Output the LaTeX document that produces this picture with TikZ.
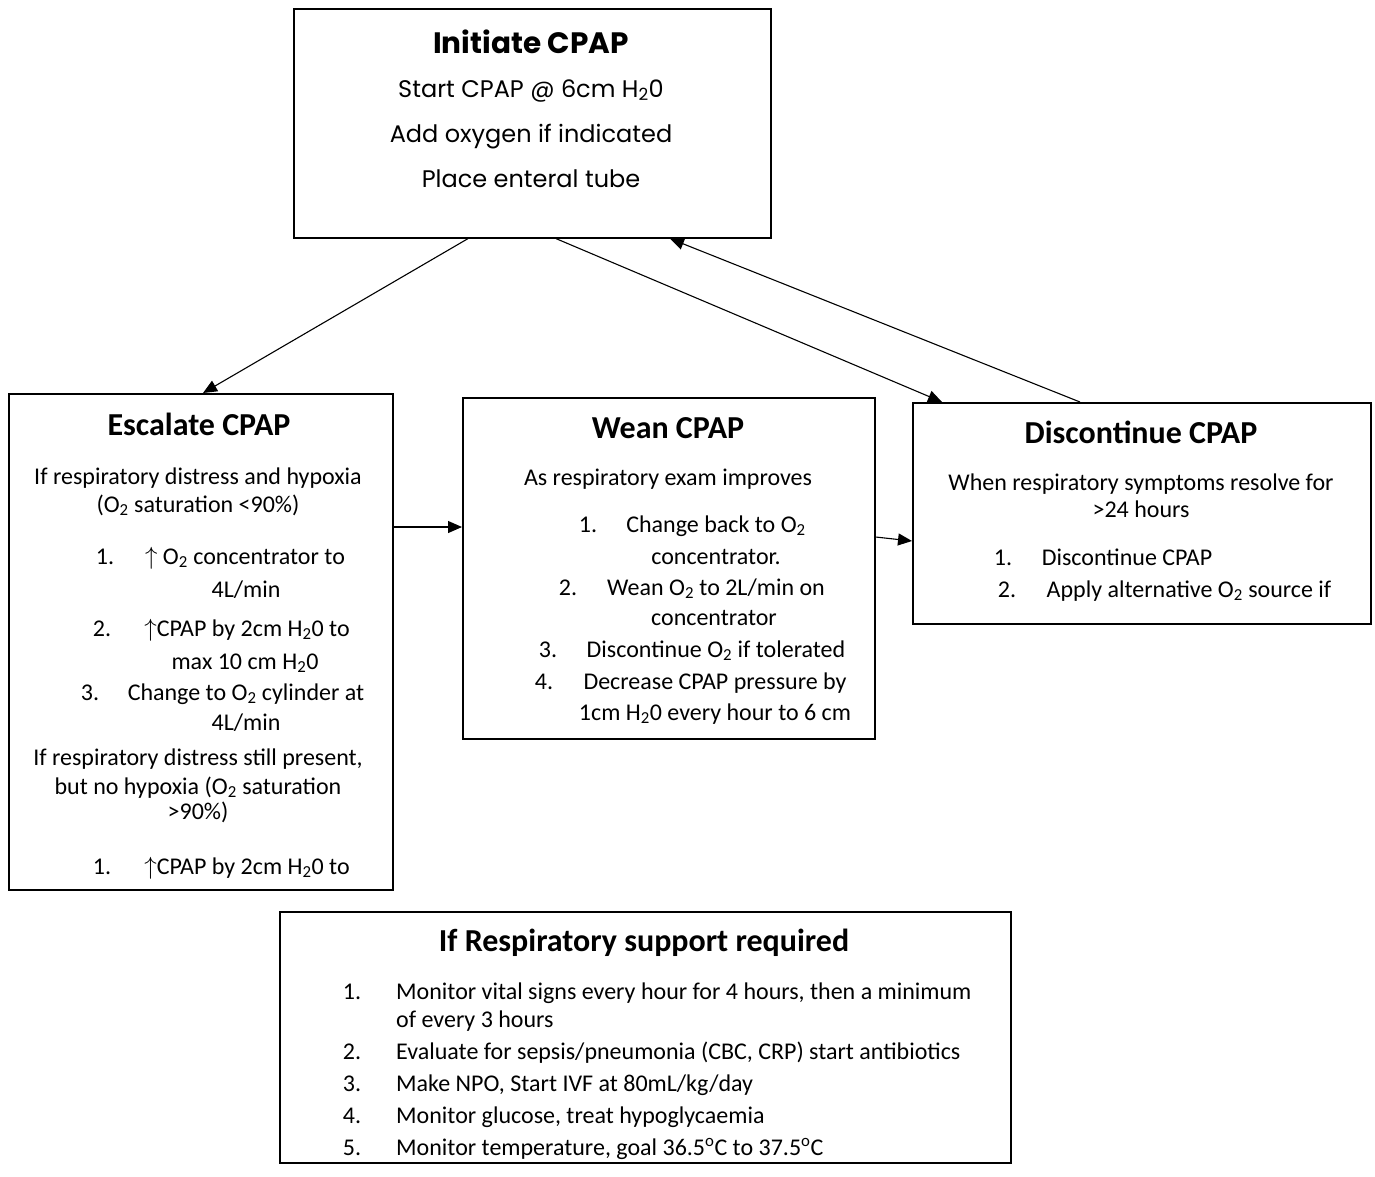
\documentclass[tikz,border=0pt]{standalone}
\usepackage{fontspec}
\usepackage{tikz}
\usetikzlibrary{arrows.meta}
\newfontfamily\gothic{Poppins}
\newfontfamily\carlito{Carlito}
\newcommand{\Ox}{O\textsubscript{2}}
\newcommand{\Hz}{H\textsubscript{2}0}
\newcommand{\upar}{$\uparrow$}

\tikzset{
  box/.style={draw, line width=1.6pt, anchor=north west, inner sep=0pt},
  arr/.style={-{Triangle[length=14pt,width=12pt]}, line width=1.1pt},
  gttl/.style={font=\gothic\bfseries\fontsize{29.5}{32}\selectfont, anchor=mid, inner sep=0pt, yshift=-9pt},
  gtxt/.style={font=\gothic\fontsize{24}{28}\selectfont, anchor=mid, inner sep=0pt, yshift=-5pt},
  ttl/.style={font=\carlito\bfseries\fontsize{32}{36}\selectfont, anchor=mid, inner sep=0pt, yshift=-8pt},
  txt/.style={font=\carlito\fontsize{24}{28}\selectfont, anchor=mid, inner sep=0pt, yshift=-5pt},
  ltxt/.style={txt, anchor=mid west},
}

\begin{document}
\begin{tikzpicture}[x=1pt,y=-1pt]
    \useasboundingbox (0,0) rectangle (1375,1176);
    % boxes
    \node[box, minimum width=477pt, minimum height=229pt] (init) at (293,8) {};
    \node[box, minimum width=384pt, minimum height=496pt] (esc) at (8,393) {};
    \node[box, minimum width=412pt, minimum height=341pt] (wean) at (462,397) {};
    \node[box, minimum width=458pt, minimum height=221pt] (disc) at (912,402) {};
    \node[box, minimum width=731pt, minimum height=251pt] (supp) at (279,911) {};

    % initiate
    \node[gttl] (i0) at (531,42) {Initiate CPAP};
    \node[gtxt] (i1) at (531,90) {Start CPAP @ 6cm \Hz};
    \node[gtxt] (i2) at (531,135) {Add oxygen if indicated};
    \node[gtxt] (i3) at (531,180) {Place enteral tube};

    % escalate
    \node[ttl] (e0) at (199,425) {Escalate CPAP};
    \node[txt] (e1) at (198,477) {If respiratory distress and hypoxia};
    \node[txt] (e2) at (198,505) {(\Ox{} saturation <90\%)};
    \node[txt] (en1) at (105,557) {1.};
    \node[txt] (e3) at (245,557) {\upar{} \Ox{} concentrator to};
    \node[txt] (e4) at (246,590) {4L/min};
    \node[txt] (en2) at (102,629) {2.};
    \node[txt] (e5) at (247,629) {\upar CPAP by 2cm \Hz{} to};
    \node[txt] (e6) at (245,662) {max 10 cm \Hz};
    \node[txt] (en3) at (90,693) {3.};
    \node[txt] (e7) at (246,693) {Change to \Ox{} cylinder at};
    \node[txt] (e8) at (246,723) {4L/min};
    \node[txt] (e9) at (198,758) {If respiratory distress still present,};
    \node[txt] (e10) at (198,787) {but no hypoxia (\Ox{} saturation};
    \node[txt] (e11) at (198,812) {>90\%)};
    \node[txt] (en4) at (102,867) {1.};
    \node[txt] (e12) at (247,867) {\upar CPAP by 2cm \Hz{} to};

    % wean
    \node[ttl] (w0) at (668,428) {Wean CPAP};
    \node[txt] (w1) at (668,478) {As respiratory exam improves};
    \node[txt] (wn1) at (588,525) {1.};
    \node[txt] (w2) at (716,525) {Change back to \Ox};
    \node[txt] (w3) at (716,557) {concentrator.};
    \node[txt] (wn2) at (568,588) {2.};
    \node[txt] (w4) at (716,588) {Wean \Ox{} to 2L/min on};
    \node[txt] (w5) at (714,618) {concentrator};
    \node[txt] (wn3) at (548,650) {3.};
    \node[txt] (w6) at (716,650) {Discontinue \Ox{} if tolerated};
    \node[txt] (wn4) at (544,682) {4.};
    \node[txt] (w7) at (715,682) {Decrease CPAP pressure by};
    \node[txt] (w8) at (715,713) {1cm \Hz{} every hour to 6 cm};

    % discontinue
    \node[ttl] (d0) at (1141,433) {Discontinue CPAP};
    \node[txt] (d1) at (1141,483) {When respiratory symptoms resolve for};
    \node[txt] (d2) at (1141,510) {>24 hours};
    \node[txt] (dn1) at (1003,558) {1.};
    \node[txt] (d3) at (1127,558) {Discontinue CPAP};
    \node[txt] (dn2) at (1007,590) {2.};
    \node[txt] (d4) at (1189,590) {Apply alternative \Ox{} source if};

    % support
    \node[ttl] (s0) at (644,941) {If Respiratory support required};
    \foreach \n/\y in {1/992,2/1052,3/1084,4/1116,5/1148}
    \node[txt] (sn\n) at (352,\y) {\n.};
    \node[ltxt] (s1) at (396,992) {Monitor vital signs every hour for 4 hours, then a minimum};
    \node[ltxt] (s2) at (396,1020) {of every 3 hours};
    \node[ltxt] (s3) at (396,1052) {Evaluate for sepsis/pneumonia (CBC, CRP) start antibiotics};
    \node[ltxt] (s4) at (396,1084) {Make NPO, Start IVF at 80mL/kg/day};
    \node[ltxt] (s5) at (396,1116) {Monitor glucose, treat hypoglycaemia};
    \node[ltxt] (s6) at (396,1148) {Monitor temperature, goal 36.5\textsuperscript{o}C to 37.5\textsuperscript{o}C};

    % arrows
    \draw[arr] ([xshift=175pt]init.south west) -- ([xshift=195pt]esc.north west);
    \draw[arr] ([xshift=263pt]init.south west) -- ([xshift=30pt]disc.north west);
    \draw[arr] ([xshift=168pt]disc.north west) -- ([xshift=377pt]init.south west);
    \draw[arr] ([yshift=-134pt]esc.north east) -- ([yshift=-130pt]wean.north west);
    \draw[arr] ([yshift=-140pt]wean.north east) -- ([yshift=-139pt]disc.north west);
\end{tikzpicture}
\end{document}
